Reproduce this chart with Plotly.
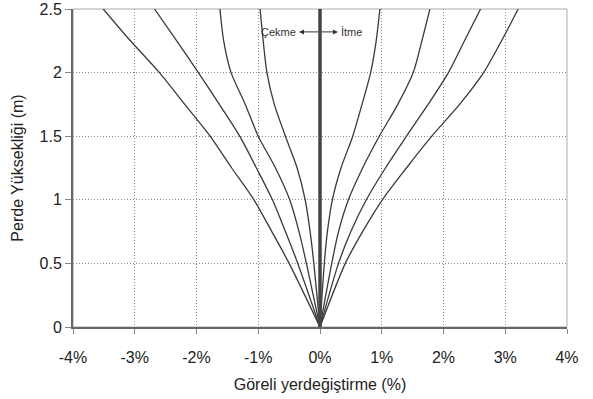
import plotly.graph_objects as go

# Heights (m) at which drift values were read
heights = [0, 0.5, 0.75, 1.0, 1.25, 1.5, 1.75, 2.0, 2.25, 2.5]

# Pull side (Çekme) drift profiles (%)
pull_1 = [0, -0.50, -0.78, -1.07, -1.43, -1.78, -2.19, -2.60, -3.07, -3.51]
pull_2 = [0, -0.36, -0.56, -0.77, -1.03, -1.30, -1.63, -1.97, -2.32, -2.68]
pull_3 = [0, -0.22, -0.34, -0.49, -0.72, -1.00, -1.21, -1.44, -1.56, -1.62]
pull_4 = [0, -0.10, -0.16, -0.24, -0.37, -0.56, -0.74, -0.86, -0.92, -0.97]

# Push side (İtme) drift profiles (%)
push_1 = [0, 0.07, 0.12, 0.20, 0.34, 0.53, 0.68, 0.82, 0.91, 0.97]
push_2 = [0, 0.19, 0.30, 0.46, 0.69, 0.96, 1.26, 1.51, 1.65, 1.78]
push_3 = [0, 0.30, 0.50, 0.75, 1.06, 1.40, 1.75, 2.08, 2.34, 2.60]
push_4 = [0, 0.41, 0.69, 1.01, 1.40, 1.81, 2.26, 2.65, 2.94, 3.21]

center_x = [0, 0]
center_y = [0, 2.5]

x_ticks = [-4, -3, -2, -1, 0, 1, 2, 3, 4]
x_tick_labels = ["-4%", "-3%", "-2%", "-1%", "0%", "1%", "2%", "3%", "4%"]
y_ticks = [0, 0.5, 1, 1.5, 2, 2.5]
y_tick_labels = ["0", "0.5", "1", "1.5", "2", "2.5"]

FONT = "Liberation Sans, Arial, sans-serif"
LINE_COLOR = "#3a3a3a"

fig = go.Figure()
for series in [pull_1, pull_2, pull_3, pull_4, push_1, push_2, push_3, push_4]:
    fig.add_trace(go.Scatter(
        x=series, y=heights, mode="lines",
        line=dict(color=LINE_COLOR, width=1.3, shape="spline", smoothing=0.8),
        showlegend=False, hoverinfo="skip"))

fig.add_trace(go.Scatter(
    x=center_x, y=center_y, mode="lines",
    line=dict(color="#444444", width=3.5),
    showlegend=False, hoverinfo="skip"))

fig.add_shape(type="rect", xref="paper", yref="paper", x0=0, y0=0, x1=1, y1=1,
              line=dict(color="#aaaaaa", width=1), layer="below")

fig.add_annotation(x=-0.36, y=2.32, text="Çekme", showarrow=False, xanchor="right",
                   font=dict(family=FONT, size=11, color="#333"))
fig.add_annotation(x=0.31, y=2.32, text="İtme", showarrow=False, xanchor="left",
                   font=dict(family=FONT, size=11, color="#333"))
fig.add_annotation(x=-0.34, y=2.32, ax=0, ay=2.32, axref="x", ayref="y", text="",
                   showarrow=True, arrowhead=2, arrowsize=1, arrowwidth=1, arrowcolor="#333")
fig.add_annotation(x=0.29, y=2.32, ax=0, ay=2.32, axref="x", ayref="y", text="",
                   showarrow=True, arrowhead=2, arrowsize=1, arrowwidth=1, arrowcolor="#333")

fig.update_xaxes(
    range=[-4, 4], tickvals=x_ticks, ticktext=x_tick_labels,
    showgrid=True, gridcolor="#8a8a8a", griddash="1px,2px", gridwidth=1,
    showline=True, linecolor="#666666", linewidth=2,
    ticks="outside", ticklen=5, tickcolor="#888888", ticklabelstandoff=10,
    zeroline=False, automargin=False,
    tickfont=dict(family=FONT, size=16, color="#222"),
    title=dict(text="Göreli yerdeğiştirme (%)", font=dict(family=FONT, size=16, color="#222"), standoff=14),
)
fig.update_yaxes(
    range=[0, 2.5], tickvals=y_ticks, ticktext=y_tick_labels,
    showgrid=True, gridcolor="#8a8a8a", griddash="1px,2px", gridwidth=1,
    showline=True, linecolor="#666666", linewidth=2,
    ticks="outside", ticklen=6, tickcolor="#888888",
    zeroline=False, automargin=False,
    tickfont=dict(family=FONT, size=16, color="#222"),
    title=dict(text="Perde Yüksekliği (m)", font=dict(family=FONT, size=16, color="#222"), standoff=12),
)

fig.update_layout(
    width=593, height=399,
    margin=dict(l=73, r=26, t=9, b=72),
    plot_bgcolor="white", paper_bgcolor="white",
    font=dict(family=FONT),
)

fig.write_html("out.html", config={"displayModeBar": False},
               post_script="document.body.style.margin='0';")
